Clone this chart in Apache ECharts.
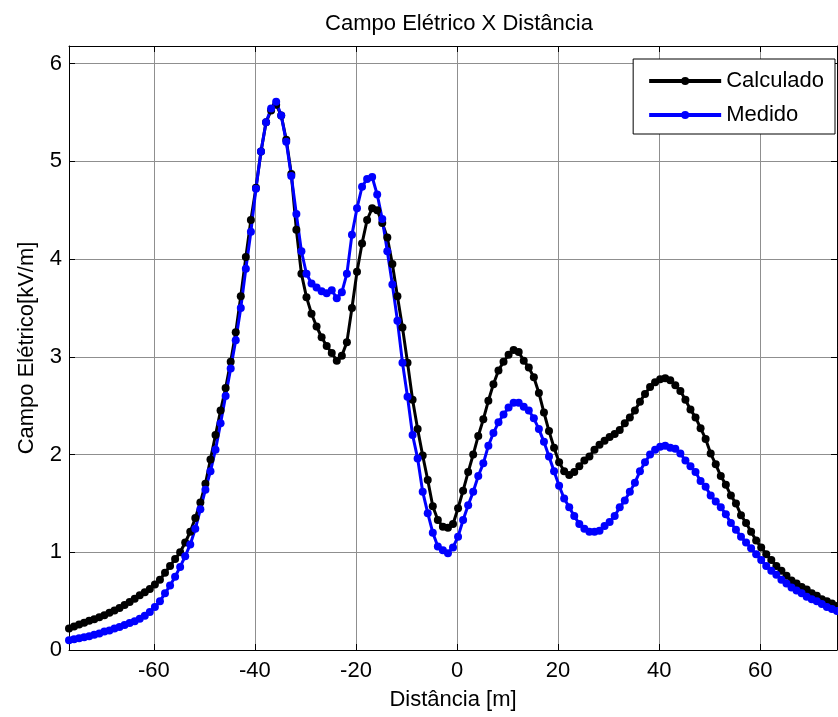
<!DOCTYPE html>
<html>
<head>
<meta charset="utf-8">
<script src="https://cdn.jsdelivr.net/npm/echarts@6/dist/echarts.min.js"></script>
<style>
  html, body { margin: 0; padding: 0; background: #fff; }
  #chart { width: 838px; height: 717px; }
</style>
</head>
<body>
<div id="chart"></div>
<script>
// distância [m] de cada ponto medido / calculado
const distancia = [
  -76.8, -75.8, -74.8, -73.8, -72.8, -71.8, -70.8, -69.8, -68.8, -67.8,
  -66.8, -65.8, -64.8, -63.8, -62.8, -61.8, -60.8, -59.8, -58.8, -57.8,
  -56.8, -55.8, -54.8, -53.8, -52.8, -51.8, -50.8, -49.8, -48.8, -47.8,
  -46.8, -45.8, -44.8, -43.8, -42.8, -41.8, -40.8, -39.8, -38.8, -37.8,
  -36.8, -35.8, -34.8, -33.8, -32.8, -31.8, -30.8, -29.8, -28.8, -27.8,
  -26.8, -25.8, -24.8, -23.8, -22.8, -21.8, -20.8, -19.8, -18.8, -17.8,
  -16.8, -15.8, -14.8, -13.8, -12.8, -11.8, -10.8, -9.8, -8.8, -7.8,
  -6.8, -5.8, -4.8, -3.8, -2.8, -1.8, -0.8, 0.2, 1.2, 2.2,
  3.2, 4.2, 5.2, 6.2, 7.2, 8.2, 9.2, 10.2, 11.2, 12.2,
  13.2, 14.2, 15.2, 16.2, 17.2, 18.2, 19.2, 20.2, 21.2, 22.2,
  23.2, 24.2, 25.2, 26.2, 27.2, 28.2, 29.2, 30.2, 31.2, 32.2,
  33.2, 34.2, 35.2, 36.2, 37.2, 38.2, 39.2, 40.2, 41.2, 42.2,
  43.2, 44.2, 45.2, 46.2, 47.2, 48.2, 49.2, 50.2, 51.2, 52.2,
  53.2, 54.2, 55.2, 56.2, 57.2, 58.2, 59.2, 60.2, 61.2, 62.2,
  63.2, 64.2, 65.2, 66.2, 67.2, 68.2, 69.2, 70.2, 71.2, 72.2,
  73.2, 74.2, 75.2
]

// campo elétrico [kV/m]
const calculado = [
  0.22, 0.24, 0.26, 0.28, 0.30, 0.315, 0.335, 0.355, 0.38, 0.405,
  0.43, 0.46, 0.49, 0.525, 0.56, 0.59, 0.625, 0.67, 0.72, 0.79,
  0.86, 0.93, 1.00, 1.10, 1.21, 1.35, 1.51, 1.70, 1.95, 2.20,
  2.45, 2.68, 2.95, 3.25, 3.62, 4.02, 4.40, 4.73, 5.10, 5.40,
  5.52, 5.58, 5.47, 5.22, 4.87, 4.30, 3.85, 3.61, 3.44, 3.31,
  3.20, 3.11, 3.04, 2.96, 3.01, 3.15, 3.50, 3.87, 4.16, 4.40,
  4.52, 4.50, 4.37, 4.22, 3.95, 3.62, 3.30, 2.94, 2.56, 2.26,
  1.99, 1.74, 1.47, 1.33, 1.26, 1.25, 1.29, 1.45, 1.63, 1.82,
  2.00, 2.19, 2.36, 2.55, 2.72, 2.86, 2.95, 3.02, 3.07, 3.05,
  2.96, 2.89, 2.79, 2.63, 2.43, 2.24, 2.07, 1.92, 1.83, 1.79,
  1.82, 1.88, 1.94, 1.98, 2.05, 2.10, 2.14, 2.18, 2.21, 2.25,
  2.32, 2.38, 2.45, 2.54, 2.62, 2.69, 2.74, 2.77, 2.78, 2.76,
  2.71, 2.65, 2.56, 2.46, 2.38, 2.27, 2.16, 2.01, 1.90, 1.78,
  1.69, 1.58, 1.50, 1.38, 1.30, 1.21, 1.12, 1.05, 0.98, 0.92,
  0.86, 0.81, 0.76, 0.71, 0.68, 0.645, 0.62, 0.58, 0.555, 0.52,
  0.50, 0.475, 0.45
]

const medido = [
  0.10, 0.11, 0.12, 0.13, 0.14, 0.155, 0.17, 0.19, 0.20, 0.22,
  0.235, 0.255, 0.275, 0.295, 0.32, 0.35, 0.39, 0.44, 0.50, 0.58,
  0.66, 0.75, 0.85, 0.96, 1.08, 1.24, 1.44, 1.64, 1.83, 2.05,
  2.32, 2.60, 2.88, 3.17, 3.50, 3.90, 4.28, 4.72, 5.10, 5.40,
  5.54, 5.61, 5.47, 5.20, 4.85, 4.46, 4.08, 3.85, 3.75, 3.71,
  3.67, 3.65, 3.68, 3.60, 3.66, 3.85, 4.25, 4.52, 4.74, 4.82,
  4.84, 4.66, 4.41, 4.08, 3.74, 3.37, 2.94, 2.59, 2.20, 1.96,
  1.62, 1.40, 1.20, 1.06, 1.02, 0.99, 1.05, 1.16, 1.33, 1.48,
  1.62, 1.78, 1.91, 2.09, 2.22, 2.33, 2.41, 2.48, 2.53, 2.53,
  2.49, 2.45, 2.37, 2.26, 2.13, 1.98, 1.83, 1.68, 1.55, 1.46,
  1.37, 1.29, 1.24, 1.21, 1.21, 1.22, 1.27, 1.31, 1.37, 1.46,
  1.53, 1.62, 1.71, 1.83, 1.92, 2.00, 2.05, 2.08, 2.09, 2.07,
  2.06, 2.01, 1.94, 1.88, 1.82, 1.73, 1.67, 1.58, 1.52, 1.46,
  1.39, 1.30, 1.23, 1.16, 1.10, 1.04, 0.98, 0.92, 0.86, 0.81,
  0.77, 0.72, 0.68, 0.64, 0.61, 0.58, 0.545, 0.52, 0.50, 0.47,
  0.44, 0.42, 0.40
]

const xTicks = [-60, -40, -20, 0, 20, 40, 60]
const yTicks = [0, 1, 2, 3, 4, 5, 6]

const fonte = '"Liberation Sans", Arial, Helvetica, sans-serif'

const chart = echarts.init(document.getElementById('chart'))

const eixoX = (pos) => ({
  type: 'value',
  position: pos,
  min: -76.8,
  max: 75.2,
  axisLine: { show: true, onZero: false, lineStyle: { color: '#000', width: 1 } },
  axisTick: { show: true, inside: true, length: 6, customValues: xTicks, lineStyle: { color: '#000' } },
  axisLabel: {
    show: pos === 'bottom',
    customValues: xTicks,
    margin: 10,
    color: '#000',
    fontSize: 22,
    fontFamily: fonte
  },
  splitLine: { show: pos === 'bottom', lineStyle: { color: '#8f8f8f', width: 1 } }
})

const eixoY = (pos) => ({
  type: 'value',
  position: pos,
  min: 0,
  max: 6.18,
  axisLine: { show: true, onZero: false, lineStyle: { color: '#000', width: 1 } },
  axisTick: { show: true, inside: true, length: 6, customValues: yTicks, lineStyle: { color: '#000' } },
  axisLabel: {
    show: pos === 'left',
    customValues: yTicks,
    margin: 7,
    color: '#000',
    fontSize: 22,
    fontFamily: fonte
  },
  splitLine: { show: pos === 'left', lineStyle: { color: '#8f8f8f', width: 1 } }
})

const serie = (nome, valores, cor) => ({
  name: nome,
  type: 'line',
  data: valores.map((v, i) => [distancia[i], v]),
  symbol: 'circle',
  symbolSize: 8,
  showSymbol: true,
  showAllSymbol: true,
  color: cor,
  itemStyle: { color: cor },
  lineStyle: { color: cor, width: 3 },
  clip: true
})

const xBottom = eixoX('bottom')
xBottom.name = 'Distância [m]'
xBottom.nameLocation = 'middle'
xBottom.nameGap = 39
xBottom.nameTextStyle = { color: '#000', fontSize: 22, fontFamily: fonte }

const yLeft = eixoY('left')
yLeft.name = 'Campo Elétrico[kV/m]'
yLeft.nameLocation = 'middle'
yLeft.nameGap = 31
yLeft.nameTextStyle = { color: '#000', fontSize: 22, fontFamily: fonte }

chart.setOption({
  animation: false,
  backgroundColor: '#fff',
  title: {
    text: 'Campo Elétrico X Distância',
    left: 454,
    top: 8,
    textAlign: 'center',
    textStyle: { color: '#000', fontSize: 22, fontWeight: 'normal', fontFamily: fonte }
  },
  grid: { left: 69, right: 1, top: 46, bottom: 67, containLabel: false },
  legend: {
    data: ['Calculado', 'Medido'],
    orient: 'vertical',
    right: 3,
    top: 59,
    itemWidth: 72,
    itemHeight: 10,
    itemGap: 10,
    padding: [10, 11, 7, 14],
    backgroundColor: '#fff',
    borderColor: '#000',
    borderWidth: 1,
    borderRadius: 0,
    lineStyle: { width: 4 },
    textStyle: { color: '#000', fontSize: 22, lineHeight: 24, fontFamily: fonte }
  },
  xAxis: [xBottom, eixoX('top')],
  yAxis: [yLeft, eixoY('right')],
  series: [
    serie('Calculado', calculado, '#000000'),
    serie('Medido', medido, '#0000ff')
  ]
})
</script>
</body>
</html>
